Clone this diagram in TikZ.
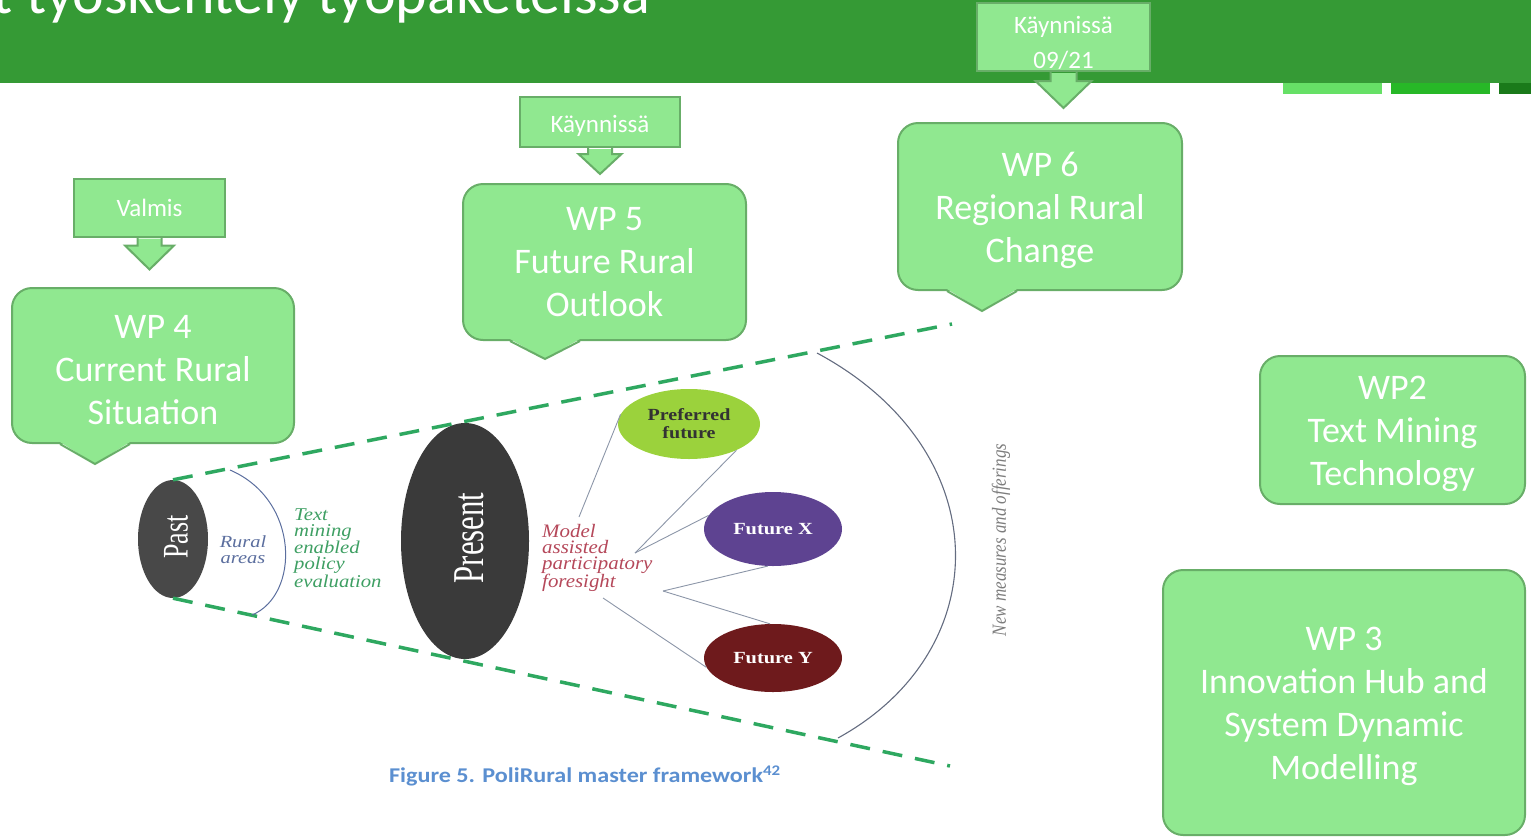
\documentclass[tikz,border=0pt]{standalone}
\usepackage{fontspec}
\usepackage{graphicx}
\setmainfont{Carlito}
\newfontfamily\seriff{Liberation Serif}
\usetikzlibrary{shapes.geometric,calc}
\definecolor{hdr}{RGB}{53,154,53}
\definecolor{barA}{RGB}{102,224,102}
\definecolor{barB}{RGB}{39,184,39}
\definecolor{barC}{RGB}{26,122,26}
\definecolor{cfill}{RGB}{144,232,144}
\definecolor{cline}{RGB}{104,174,104}
\definecolor{dashg}{RGB}{46,168,96}
\definecolor{pastc}{RGB}{72,72,72}
\definecolor{presc}{RGB}{58,58,58}
\definecolor{prefc}{RGB}{155,210,60}
\definecolor{futx}{RGB}{94,67,145}
\definecolor{futy}{RGB}{110,26,28}
\definecolor{ruralc}{RGB}{91,110,158}
\definecolor{tmc}{RGB}{62,159,99}
\definecolor{modc}{RGB}{181,72,90}
\definecolor{thinc}{RGB}{140,150,168}
\definecolor{arcc}{RGB}{100,108,128}
\definecolor{capc}{RGB}{91,143,208}
\definecolor{nmc}{RGB}{125,125,125}
\newcommand{\stArrow}[5]{%
  \fill[cfill] ($(#1.south)+(-#2,1)$) -- ($(#1.south)+(-#2,#3)$) -- ($(#1.south)+(-#4,#3)$) -- ($(#1.south)+(0,#3+#5)$) -- ($(#1.south)+(#4,#3)$) -- ($(#1.south)+(#2,#3)$) -- ($(#1.south)+(#2,1)$) -- cycle;
  \draw[ptrline] ($(#1.south)+(-#2,0)$) -- ($(#1.south)+(-#2,#3)$) -- ($(#1.south)+(-#4,#3)$) -- ($(#1.south)+(0,#3+#5)$) -- ($(#1.south)+(#4,#3)$) -- ($(#1.south)+(#2,#3)$) -- ($(#1.south)+(#2,0)$);
}
\newcommand{\wpPointer}[4]{%
  \fill[cfill] ($(#1.south)+(#2,-2)$) -- ($(#1.south)+(#3,#4)$) -- ($(#1.south)+(#2+70,-2)$) -- cycle;
  \draw[ptrline] ($(#1.south)+(#2,0)$) -- ($(#1.south)+(#3,#4)$) -- ($(#1.south)+(#2+70,0)$);
}
\newcommand{\sx}[2]{\scalebox{#1}[1]{#2}}
\newcommand{\tl}{\rule{0pt}{32pt}}
\tikzset{
  wpbox/.style={draw=cline, fill=cfill, line width=2pt, rounded corners=20pt, text=white, align=center, font=\fontsize{36}{43}\selectfont, inner sep=0pt},
  stbox/.style={draw=cline, fill=cfill, line width=2pt, text=white, align=center, font=\fontsize{25}{35}\selectfont, inner sep=0pt},
  ptrline/.style={draw=cline, line width=2pt, line join=miter},
  dashline/.style={draw=dashg, line width=3.5pt, dash pattern=on 20pt off 13pt},
  thinline/.style={draw=thinc, line width=0.9pt},
  fut/.style={ellipse, inner sep=0pt, align=center, font=\seriff\bfseries\fontsize{17}{18}\selectfont}
}
\begin{document}
\begin{tikzpicture}[x=1pt,y=-1pt]
\useasboundingbox (0,0) rectangle (1531,838);
% header
\fill[hdr] (0,0) rectangle (1531,83);
\fill[barA] (1283,83) rectangle (1382,94);
\fill[barB] (1391,83) rectangle (1490,94);
\fill[barC] (1499,83) rectangle (1531,94);
\node[anchor=base east, text=white, inner sep=0pt, font=\fontsize{60}{60}\selectfont] (title) at (650,13) {t työskentely työpaketeissa};

% figure
\node[ellipse, fill=pastc, minimum width=70pt, minimum height=118pt, inner sep=0pt] (past) at (173,539) {};
\node[ellipse, fill=presc, minimum width=128pt, minimum height=236pt, inner sep=0pt] (present) at (465,541) {};
\coordinate (ue) at (952,324);
\coordinate (le) at (950,766);
\draw[dashline] (past.north) -- (ue);
\draw[dashline] (past.south) -- (le);
\node[rotate=90, text=white, inner sep=0pt, font=\seriff\fontsize{36}{36}\selectfont] (pastlbl) at (176,537) {\sx{0.72}{Past}};
\node[rotate=90, text=white, inner sep=0pt, font=\seriff\fontsize{44}{44}\selectfont] (presentlbl) at (469,538) {\sx{0.7}{Present}};

\coordinate (a1s) at (230,470);
\coordinate (a1e) at (252,615);
\draw[draw=ruralc, line width=1pt] (a1s) .. controls (300,500) and (300,595) .. (a1e);
\coordinate (b1s) at (817,353);
\coordinate (b1e) at (838,738);
\draw[draw=arcc, line width=1.1pt] (b1s) .. controls (998,450) and (998,650) .. (b1e);

\node[text=ruralc, align=center, inner sep=0pt, font=\seriff\itshape\fontsize{17}{16}\selectfont] (rural) at (243,550) {\sx{1.2}{Rural}\\\sx{1.2}{areas}};
\node[anchor=west, text=tmc, align=left, inner sep=0pt, font=\seriff\itshape\fontsize{18}{16}\selectfont] (tm) at (294,548) {\sx{1.15}{Text}\\\sx{1.15}{mining}\\\sx{1.15}{enabled}\\\sx{1.15}{policy}\\\sx{1.15}{evaluation}};
\node[anchor=west, text=modc, align=left, inner sep=0pt, font=\seriff\itshape\fontsize{19}{16}\selectfont] (model) at (542,558) {\sx{1.1}{Model}\\\sx{1.1}{assisted}\\\sx{1.1}{participatory}\\\sx{1.1}{foresight}};

\node[fut, fill=prefc, minimum width=142pt, minimum height=70pt, text=black!80] (pref) at (689,424) {\sx{1.18}{Preferred}\\\sx{1.18}{future}};
\node[fut, fill=futx, minimum width=138pt, minimum height=74pt, text=white] (fx) at (773,529) {\sx{1.2}{Future X}};
\node[fut, fill=futy, minimum width=138pt, minimum height=68pt, text=white] (fy) at (773,658) {\sx{1.2}{Future Y}};

\coordinate (m1) at (579,517);
\coordinate (m2) at (635,553);
\coordinate (m3) at (663,591);
\coordinate (m4) at (603,598);
\draw[thinline] (m1) -- (pref.172);
\draw[thinline] (m2) -- (pref.-29);
\draw[thinline] (m2) -- (fx.168);
\draw[thinline] (m3) -- (fx.-98);
\draw[thinline] (m3) -- (fy.95);
\draw[thinline] (m4) -- (fy.188);

\node[rotate=90, text=nmc, inner sep=0pt, font=\seriff\itshape\fontsize{20}{20}\selectfont] (nm) at (1001,540) {\sx{0.85}{New measures and offerings}};
\node[text=capc, inner sep=0pt, font=\bfseries\fontsize{21}{21}\selectfont] (cap) at (585,776) {\sx{1.15}{Figure 5. PoliRural master framework\textsuperscript{42}}};

% WP callouts
\node[wpbox, minimum width=282pt, minimum height=155pt] (wp4) at (153,365.5) {\tl WP 4\\Current Rural\\Situation};
\wpPointer{wp4}{-93}{-58}{20}
\node[wpbox, minimum width=283pt, minimum height=156pt] (wp5) at (604.5,262) {WP 5\\Future Rural\\Outlook};
\wpPointer{wp5}{-94.5}{-59.5}{18}
\node[wpbox, minimum width=284pt, minimum height=167pt] (wp6) at (1040,206.5) {\tl WP 6\\Regional Rural\\Change};
\wpPointer{wp6}{-93}{-58}{20}
\node[wpbox, minimum width=265pt, minimum height=148pt] (wp2) at (1392.5,430) {\tl WP2\\Text Mining\\Technology};
\node[wpbox, minimum width=362pt, minimum height=265pt] (wp3) at (1344,702.5) {\tl WP 3\\Innovation Hub and\\System Dynamic\\Modelling};

% status boxes
\node[stbox, minimum width=151pt, minimum height=58pt] (s4) at (149.5,207.5) {Valmis};
\stArrow{s4}{12}{8}{24.5}{24}
\node[stbox, minimum width=160pt, minimum height=50pt, execute at begin node={\rule{0pt}{26pt}}] (s5) at (600,122) {Käynnissä};
\stArrow{s5}{12}{6}{21.5}{20}
\node[stbox, minimum width=173pt, minimum height=68pt] (s6) at (1063.5,37) {};
\stArrow{s6}{13}{9}{28}{27}
\node[text=white, align=center, inner sep=0pt, font=\fontsize{25}{35}\selectfont] (s6t) at (1063.5,42.5) {Käynnissä\\09/21};
\end{tikzpicture}
\end{document}
